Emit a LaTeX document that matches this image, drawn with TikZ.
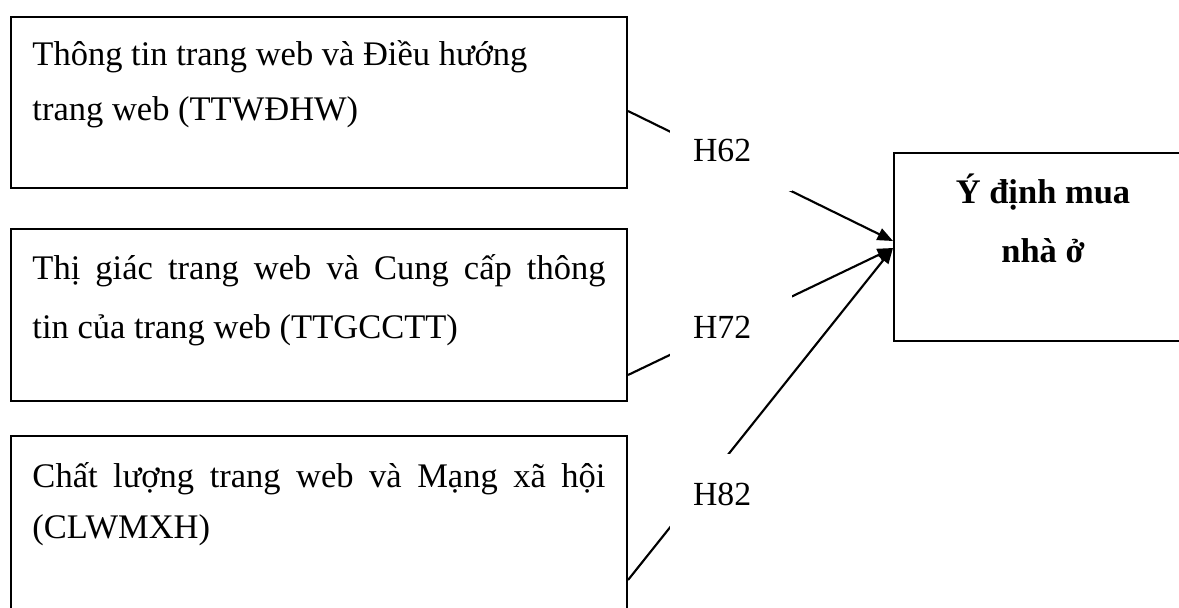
\documentclass[tikz,border=0pt]{standalone}
\usepackage{fontspec}
\setmainfont{Liberation Serif}
\usetikzlibrary{arrows.meta,calc}
\begin{document}
\begin{tikzpicture}[x=0.4pt,y=-0.4pt,
  box/.style={draw,line width=0.8pt,inner sep=0pt,anchor=north west},
  txt/.style={inner sep=0pt,anchor=base west},
  lab/.style={fill=white,inner xsep=9.2pt,inner ysep=0pt,minimum width=48.8pt,
    minimum height=32.4pt,text width=30.4pt,align=left,
    font=\fontsize{13.5}{16}\selectfont},
  conn/.style={line width=0.85pt},
  arr/.style={conn,-{Triangle[length=6.2pt,width=5pt]}}]
\useasboundingbox (0,0) rectangle (1179,607);
\clip (0,0) rectangle (1179,607);
% boxes
\node[box,minimum width=246.4pt,minimum height=68.4pt] (b1) at (10,16) {};
\node[box,minimum width=246.4pt,minimum height=68.8pt] (b2) at (10,228) {};
\node[box,minimum width=246.4pt,minimum height=106pt] (b3) at (10,435) {};
\node[box,minimum width=120pt,minimum height=75.2pt] (r) at (893,152) {};
% texts
\node[txt] (x1) at (32,65) {\parbox[t]{229.2pt}{\fontsize{13.8}{22}\selectfont
  Thông tin trang web và Điều hướng\\ trang web (TTWĐHW)}};
\node[txt] (x2) at (32,279) {\parbox[t]{229.2pt}{\fontsize{13.8}{23.8}\selectfont
  \makebox[\linewidth][s]{Thị giác trang web và Cung cấp thông}\\ tin của trang web (TTGCCTT)}};
\node[txt] (x3) at (32,487) {\parbox[t]{229.2pt}{\fontsize{13.8}{20.4}\selectfont
  \makebox[\linewidth][s]{Chất lượng trang web và Mạng xã hội}\\ (CLWMXH)}};
\node[inner sep=0pt,anchor=base] (x4) at (1043,203) {\parbox[t]{110pt}{\centering\bfseries
  \fontsize{13.8}{23.6}\selectfont Ý định mua\\ nhà ở}};
% connectors
\coordinate (s1) at ($(b1.north east)+(0,95)$);
\coordinate (s2) at ($(b2.north east)+(0,147)$);
\coordinate (s3) at ($(b3.north east)+(0,145)$);
\coordinate (e1) at ($(r.west)+(0,-6)$);
\coordinate (e2) at ($(r.west)+(0,1)$);
\draw[arr] (s1) -- (e1);
\draw[arr] (s2) -- (e2);
\draw[arr] (s3) -- (e2);
% labels
\node[lab] (h62) at (731,150) {H62};
\node[lab] (h72) at (731,327) {H72};
\node[lab] (h82) at (731,494) {H82};
\end{tikzpicture}
\end{document}
